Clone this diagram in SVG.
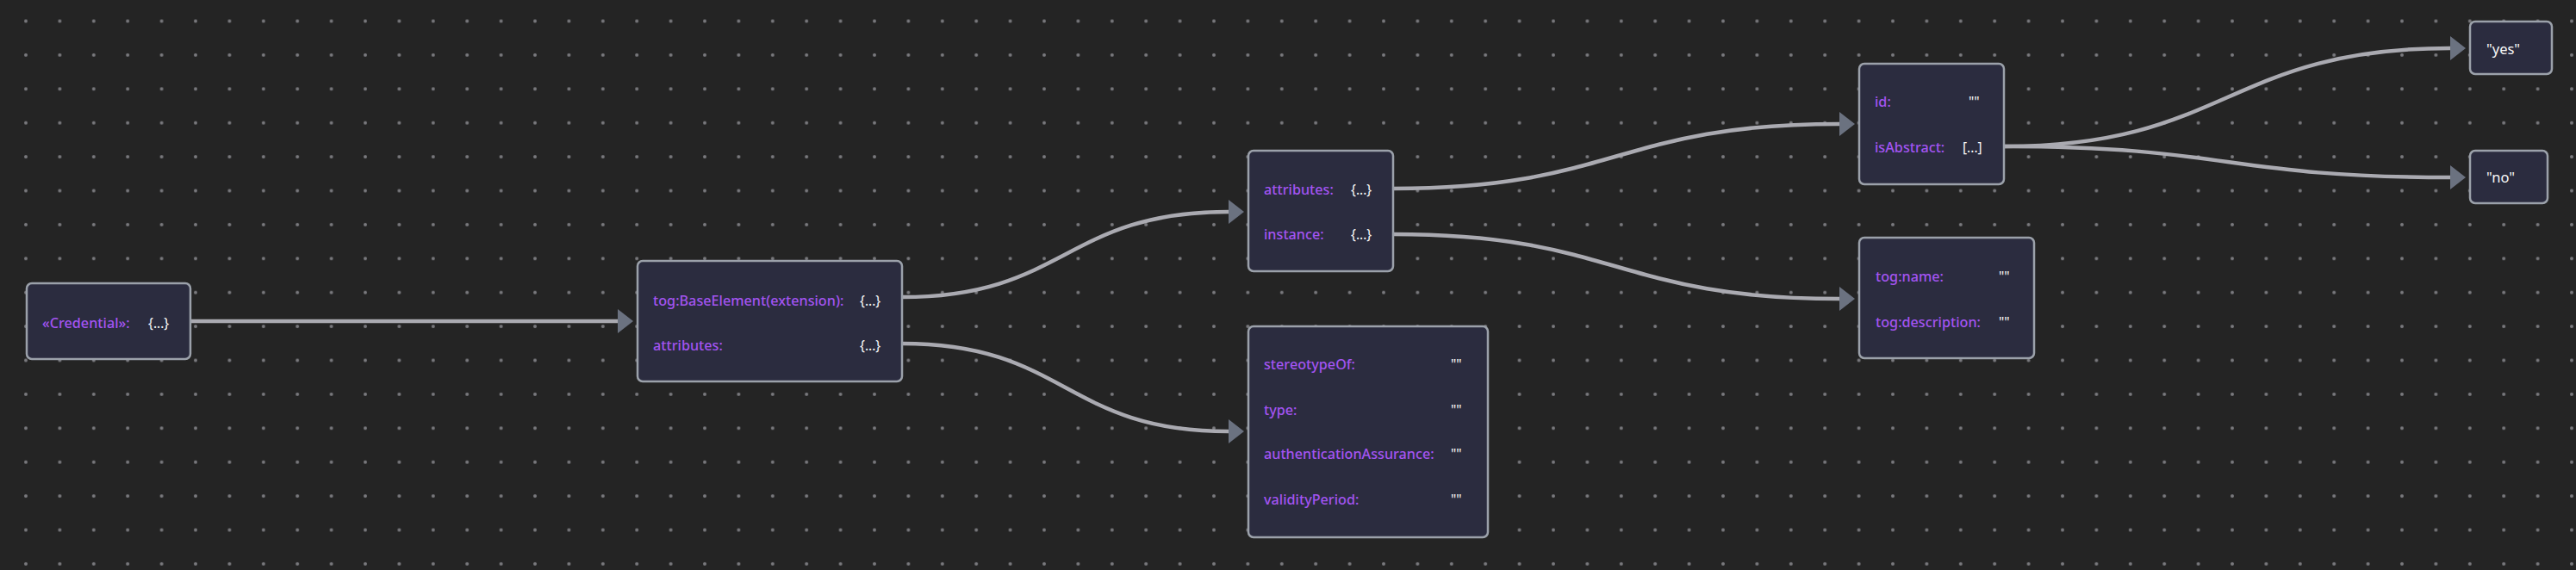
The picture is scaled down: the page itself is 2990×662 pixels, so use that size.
<svg xmlns="http://www.w3.org/2000/svg" width="2990" height="662" viewBox="0 0 2990 662">
<defs>
<pattern id="grid" patternUnits="userSpaceOnUse" x="10.3" y="4.8" width="39.4" height="39.4">
<circle cx="19.7" cy="19.7" r="2" fill="#7a7a7e"/>
</pattern>
<marker id="arrow" markerUnits="userSpaceOnUse" markerWidth="20" markerHeight="30" refX="0" refY="14" orient="auto">
<path d="M0,0 L18,14 L0,28 Z" fill="#6b7280"/>
</marker>
<style>
.box{fill:#2b2c3f;stroke:#9ba1aa;stroke-width:2.5}
.lbl{font-family:"Noto Sans","Open Sans",sans-serif;font-size:16.2px;font-weight:500;fill:#a354f2}
.val{font-family:"Noto Sans","Open Sans",sans-serif;font-size:15.5px;fill:#f8f8f8}
.edge{fill:none;stroke:#aaaab1;stroke-width:4.5;marker-end:url(#arrow)}
</style>
</defs>
<rect x="0" y="0" width="2990" height="662" fill="#242424"/>
<rect x="0" y="0" width="2990" height="662" fill="url(#grid)"/>
<g id="connectors">
<path class="edge" d="M222,373 L717,373"/>
<path class="edge" d="M1047,345 C1237,345 1236,246 1426,246"/>
<path class="edge" d="M1047,399 C1237,399 1236,501 1426,501"/>
<path class="edge" d="M1617,219 C1876,219 1876,144 2135,144"/>
<path class="edge" d="M1617,272 C1876,272 1876,347 2135,347"/>
<path class="edge" d="M2327,170 C2585,170 2586,56 2844,56"/>
<path class="edge" d="M2327,170 C2585,170 2586,206 2844,206"/>
</g>
<g id="node-credential">
<rect class="box" x="31" y="329" width="190" height="88" rx="6"/>
<text class="lbl" x="49" y="381">«Credential»:</text>
<text class="val" x="172" y="381">{...}</text>
</g>
<g id="node-baseelement">
<rect class="box" x="740" y="303" width="307" height="140" rx="6"/>
<text class="lbl" x="758" y="355">tog:BaseElement(extension):</text>
<text class="val" x="998" y="355">{...}</text>
<text class="lbl" x="758" y="407">attributes:</text>
<text class="val" x="998" y="407">{...}</text>
</g>
<g id="node-attributes">
<rect class="box" x="1449" y="175" width="168" height="140" rx="6"/>
<text class="lbl" x="1467" y="226">attributes:</text>
<text class="val" x="1568" y="226">{...}</text>
<text class="lbl" x="1467" y="278">instance:</text>
<text class="val" x="1568" y="278">{...}</text>
</g>
<g id="node-stereotype">
<rect class="box" x="1449" y="379" width="278" height="245" rx="6"/>
<text class="lbl" x="1467" y="429">stereotypeOf:</text>
<text class="val" x="1684" y="429">""</text>
<text class="lbl" x="1467" y="482">type:</text>
<text class="val" x="1684" y="482">""</text>
<text class="lbl" x="1467" y="533">authenticationAssurance:</text>
<text class="val" x="1684" y="533">""</text>
<text class="lbl" x="1467" y="586">validityPeriod:</text>
<text class="val" x="1684" y="586">""</text>
</g>
<g id="node-id">
<rect class="box" x="2158" y="74" width="168" height="140" rx="6"/>
<text class="lbl" x="2176" y="124">id:</text>
<text class="val" x="2285" y="124">""</text>
<text class="lbl" x="2176" y="177">isAbstract:</text>
<text class="val" x="2278" y="177">[...]</text>
</g>
<g id="node-instance">
<rect class="box" x="2158" y="276" width="203" height="140" rx="6"/>
<text class="lbl" x="2177" y="327">tog:name:</text>
<text class="val" x="2320" y="327">""</text>
<text class="lbl" x="2177" y="380">tog:description:</text>
<text class="val" x="2320" y="380">""</text>
</g>
<g id="node-yes">
<rect class="box" x="2867" y="25" width="95" height="61" rx="6"/>
<text class="val" x="2886" y="63" style="font-size:16.5px">"yes"</text>
</g>
<g id="node-no">
<rect class="box" x="2867" y="175" width="90" height="61" rx="6"/>
<text class="val" x="2886" y="212" style="font-size:16.5px">"no"</text>
</g>
</svg>
